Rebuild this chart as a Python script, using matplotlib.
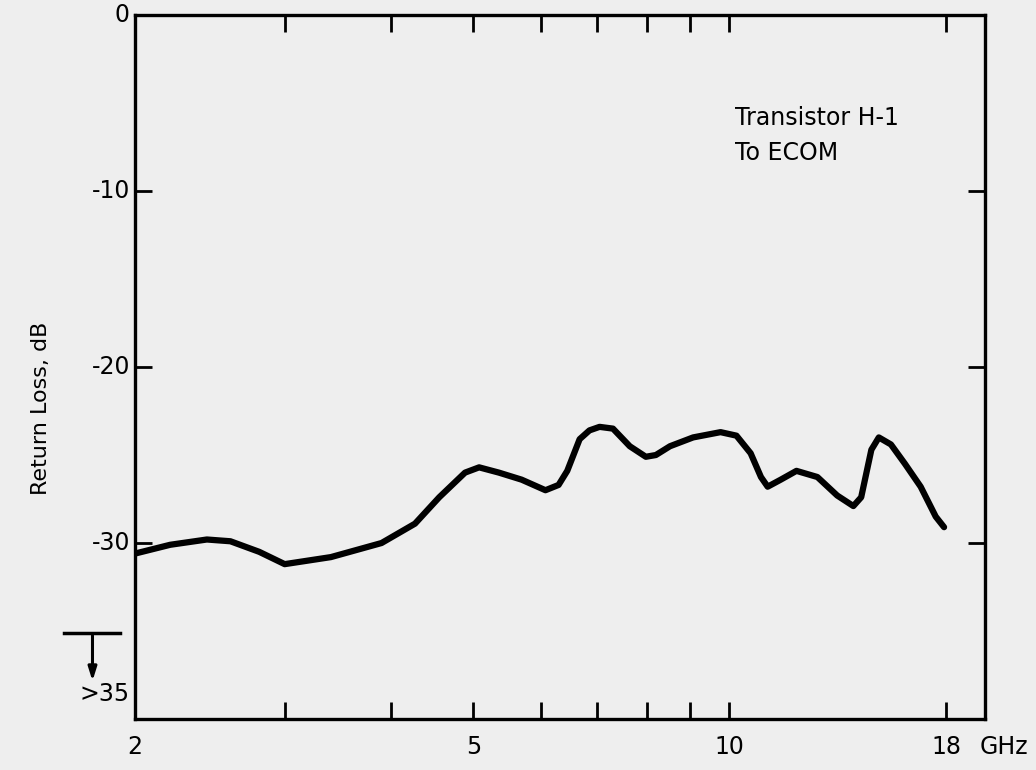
import numpy as np
import matplotlib
matplotlib.use('Agg')
import matplotlib.pyplot as plt

plt.rcParams['font.family'] = ['Liberation Sans Narrow', 'DejaVu Sans Condensed', 'DejaVu Sans']

# return loss curve
freq_ghz = [2.0, 2.2, 2.43, 2.59, 2.8, 3.0, 3.4, 3.9, 4.27, 4.56, 4.89, 5.08, 5.36,
            5.7, 6.08, 6.3, 6.45, 6.67, 6.85, 7.04, 7.3, 7.64, 7.98, 8.2, 8.52, 9.07,
            9.77, 10.2, 10.6, 10.9, 11.1, 11.5, 12.0, 12.7, 13.4, 14.0, 14.3, 14.7,
            15.0, 15.5, 16.1, 16.8, 17.5, 17.9]
loss_db = [-30.6, -30.1, -29.8, -29.9, -30.5, -31.2, -30.8, -30.0, -28.9, -27.4, -26.0,
           -25.7, -26.0, -26.4, -27.0, -26.7, -25.9, -24.1, -23.6, -23.4, -23.5, -24.5,
           -25.1, -25.0, -24.5, -24.0, -23.7, -23.9, -24.9, -26.25, -26.8, -26.4, -25.9,
           -26.25, -27.3, -27.9, -27.4, -24.7, -24.0, -24.4, -25.5, -26.8, -28.5, -29.1]

tick_pos = [3, 4, 5, 6, 7, 8, 9, 10, 18]
x_labels = {2: '2', 5: '5', 10: '10', 18: '18'}
y_ticks = [0, -10, -20, -30]

fig = plt.figure(figsize=(10.36, 7.70), dpi=100, facecolor='#eeeeee')
ax = fig.add_axes([0.1303, 0.0662, 0.8205, 0.9143])
ax.set_facecolor('#eeeeee')

ax.plot(freq_ghz, loss_db, color='black', lw=4.5, solid_capstyle='round', solid_joinstyle='round')

ax.set_xscale('log')
ax.set_xlim(2, 20)
ax.set_ylim(-40, 0)
ax.set_xticks(tick_pos)
ax.set_xticklabels([])
ax.minorticks_off()
ax.set_yticks([-10, -20, -30])
ax.set_yticklabels([])
ax.tick_params(axis='both', direction='in', length=12, width=2,
               top=True, right=True, bottom=True, left=True)
for sp in ax.spines.values():
    sp.set_linewidth(2.4)

tf = dict(fontsize=17, color='black')
for v, s in x_labels.items():
    ax.text(v, -0.04, s, transform=ax.get_xaxis_transform(), ha='center', va='center', **tf)
ax.text(1.022, -0.04, 'GHz', transform=ax.transAxes, ha='center', va='center', **tf)
for v in y_ticks:
    ax.text(-0.006, v, str(v), transform=ax.get_yaxis_transform(), ha='right', va='center', **tf)
ax.text(-0.006, -38.6, '>35', transform=ax.get_yaxis_transform(), ha='right', va='center', **tf)

# the "below -35" marker left of the axis
ax.plot([-0.083, -0.018], [-35.1, -35.1], transform=ax.get_yaxis_transform(),
        color='black', lw=2.5, clip_on=False)
ax.annotate('', xy=(-0.05, -38.0), xytext=(-0.05, -35.1),
            xycoords=ax.get_yaxis_transform(), textcoords=ax.get_yaxis_transform(),
            arrowprops=dict(arrowstyle='-|>,head_length=0.8,head_width=0.25', color='black', lw=2.2))

ax.text(0.706, 0.854, 'Transistor H-1', transform=ax.transAxes, ha='left', va='center', **tf)
ax.text(0.706, 0.804, 'To ECOM', transform=ax.transAxes, ha='left', va='center', **tf)

fig.text(0.04, 0.47, 'Return Loss, dB', rotation=90, ha='center', va='center', fontsize=16)

fig.savefig('out.png', dpi=100, facecolor=fig.get_facecolor())
